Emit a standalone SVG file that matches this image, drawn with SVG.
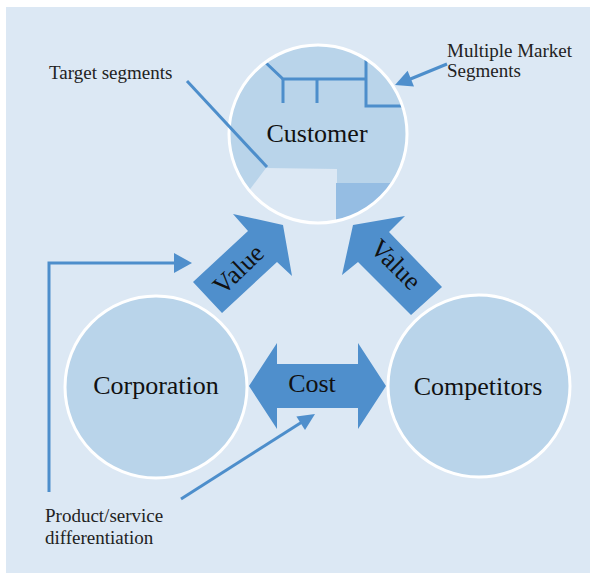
<svg xmlns="http://www.w3.org/2000/svg" width="590" height="575" viewBox="0 0 590 575">
<style>
.node{fill:#b9d4ea;stroke:#ffffff;stroke-width:3}
.big{font-family:"Liberation Serif",serif;font-size:26px;fill:#111}
.small{font-family:"Liberation Serif",serif;font-size:19px;fill:#222}
.ln{fill:none;stroke:#4d8ecb;stroke-width:3}
.arr{fill:#4f8fcc}
</style>
<defs>
<clipPath id="cc"><circle cx="318" cy="134" r="89"/></clipPath>
</defs>
<rect x="6" y="7" width="584" height="566" fill="#dce8f4"/>
<g id="customer">
<circle cx="318" cy="134" r="89" fill="#b9d4ea"/>
<g clip-path="url(#cc)">
<polygon points="266,168 337,169 337,240 212,240" fill="#dce8f4"/>
<rect x="336" y="183" width="90" height="60" fill="#95bde3"/>
<polyline class="ln" points="265,62 283,79 366,79"/>
<line class="ln" x1="283" y1="79" x2="283" y2="103"/>
<line class="ln" x1="317" y1="79" x2="317" y2="103"/>
<polyline class="ln" points="366,59 366,106 410,106"/>
</g>
<circle cx="318" cy="134" r="89" fill="none" stroke="#fff" stroke-width="3"/>
<text class="big" x="317" y="142" text-anchor="middle">Customer</text>
</g>
<g id="corporation">
<circle class="node" cx="156" cy="387" r="91"/>
<text class="big" x="156" y="394" text-anchor="middle">Corporation</text>
</g>
<g id="competitors">
<circle class="node" cx="479" cy="386" r="91"/>
<text class="big" x="478" y="395" text-anchor="middle">Competitors</text>
</g>
<g id="connectors">
<g id="value-left">
<polygon class="arr" points="193,282 248,231 233,214 283,225 292,276 277,262 222,313"/>
<text class="big" x="0" y="9" text-anchor="middle" transform="translate(238,269) rotate(-44)">Value</text>
</g>
<g id="value-right">
<polygon class="arr" points="442,287 389,232 405,216 353,225 342,275 358,262 411,315"/>
<text class="big" x="0" y="9" text-anchor="middle" transform="translate(396,264) rotate(45)">Value</text>
</g>
<g id="cost">
<polygon class="arr" points="249,386 277,343 277,364 358,364 358,343 386,386 358,429 358,408 277,408 277,429"/>
<text class="big" x="312" y="392" text-anchor="middle">Cost</text>
</g>
<polyline class="ln" points="49,492 49,263 176,263"/>
<polygon class="arr" points="192,263 174,253 174,273"/>
<line class="ln" x1="181" y1="499" x2="302" y2="422"/>
<polygon class="arr" points="315,414 296.4,416.4 305,429.9"/>
<line class="ln" x1="187" y1="81" x2="267" y2="167"/>
<line class="ln" x1="447" y1="64" x2="408" y2="80"/>
<polygon class="arr" points="395,85 407.6,70.7 414,86.5"/>
</g>
<text class="small" x="49" y="79">Target segments</text>
<text class="small" x="447" y="57" font-size="18.5">Multiple Market</text>
<text class="small" x="447" y="77" font-size="18.5">Segments</text>
<text class="small" x="45" y="522">Product/service</text>
<text class="small" x="45" y="544">differentiation</text>
</svg>
